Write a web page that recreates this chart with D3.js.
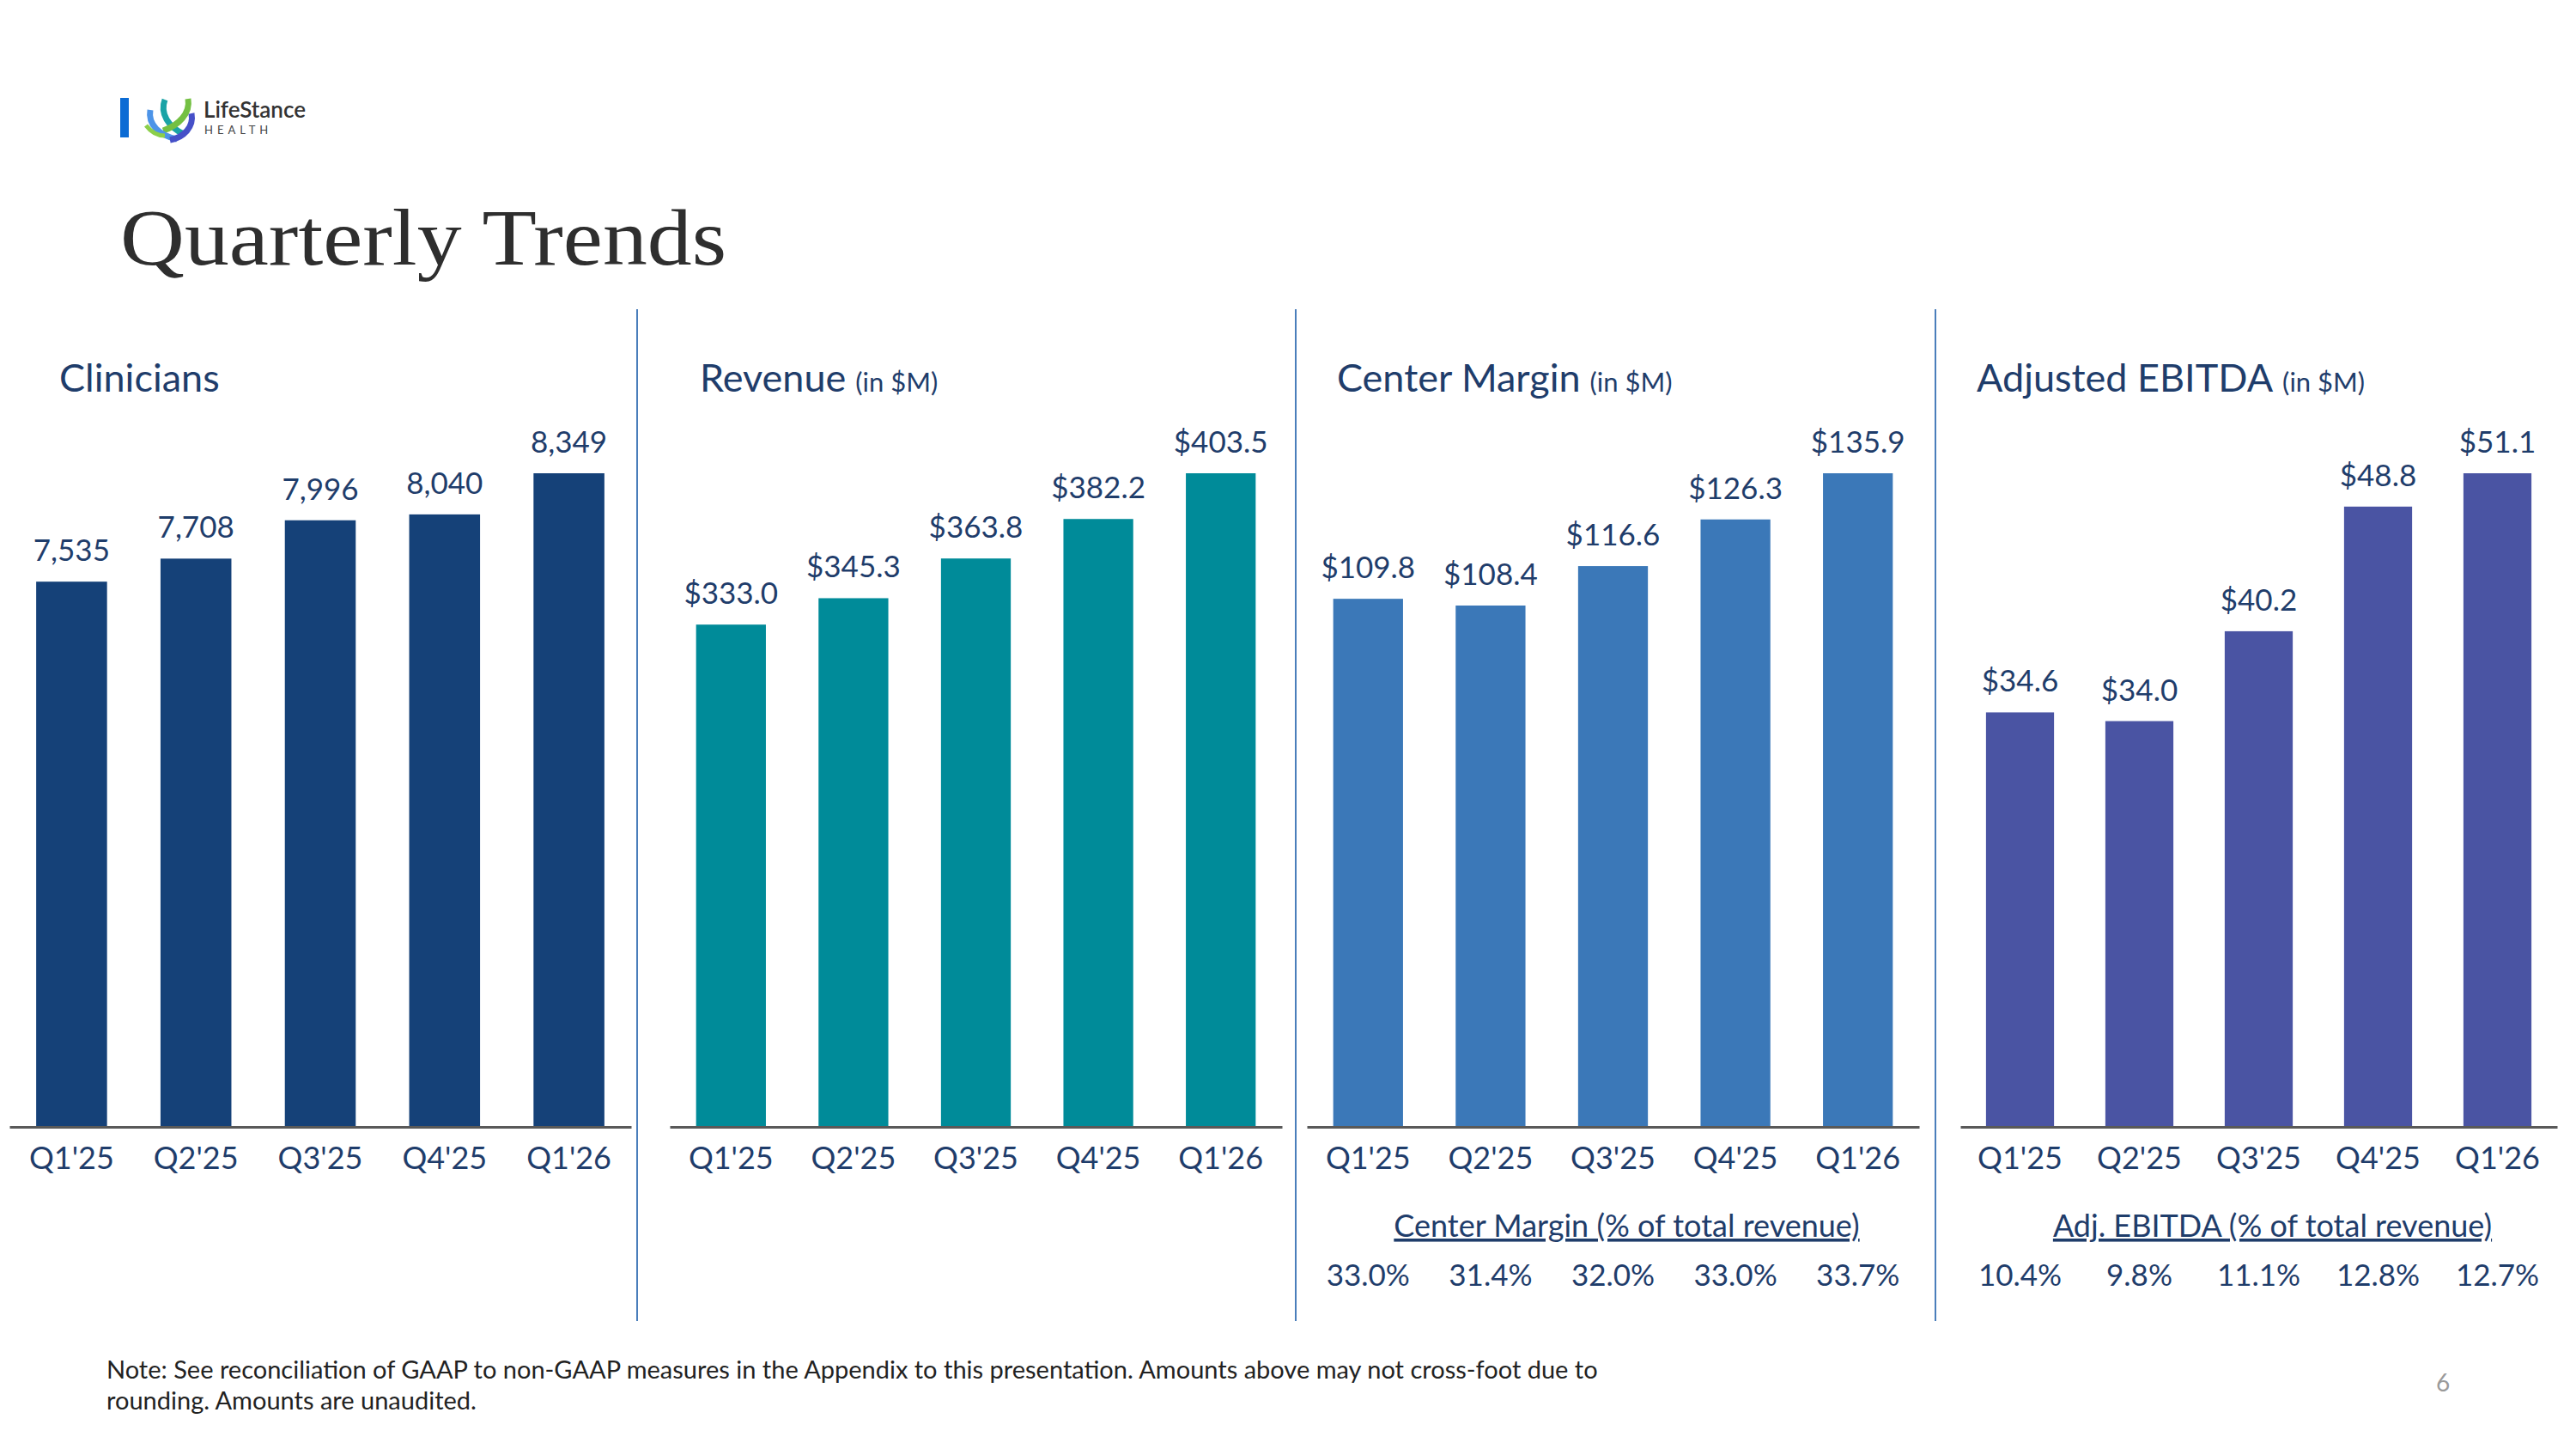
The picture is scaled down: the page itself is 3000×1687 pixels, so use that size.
<!DOCTYPE html>
<html>
<head>
<meta charset="utf-8">
<title>Quarterly Trends</title>
<style>
  body { margin: 0; background: #fff; }
  svg text { font-family: Lato, "Open Sans", sans-serif; }
</style>
</head>
<body>
<div id="chart"></div>
<script src="https://d3js.org/d3.v7.min.js"></script>
<script>
var quarters = ["Q1'25", "Q2'25", "Q3'25", "Q4'25", "Q1'26"];
var clinicians = [7535, 7708, 7996, 8040, 8349];
var revenue = [333.0, 345.3, 363.8, 382.2, 403.5];
var centerMargin = [109.8, 108.4, 116.6, 126.3, 135.9];
var adjEbitda = [34.6, 34.0, 40.2, 48.8, 51.1];
var centerMarginPct = [33.0, 31.4, 32.0, 33.0, 33.7];
var adjEbitdaPct = [10.4, 9.8, 11.1, 12.8, 12.7];
// value where each panel's bars start (axis is not zero based in the source)
var axisFloors = [3440, 99, 0, 6];

var width = 3000, height = 1687;
var textColor = "#1f3d6b";
var baseY = 1312, topY = 551;

var svg = d3.select("#chart").append("svg")
    .attr("width", width)
    .attr("height", height);

// logo
var logo = svg.append("g");
logo.append("rect").attr("x", 140).attr("y", 114).attr("width", 10).attr("height", 46).attr("fill", "#0b6bd4");
logo.append("path").attr("d", "M192,116 C186,132 196,148 214,156").attr("stroke", "#1aa3a6").attr("stroke-width", 7).attr("fill", "none");
logo.append("path").attr("d", "M219,115 C222,132 208,146 190,152").attr("stroke", "#74c043").attr("stroke-width", 7).attr("fill", "none");
logo.append("path").attr("d", "M175,128 C172,145 186,158 206,162").attr("stroke", "#4d94e8").attr("stroke-width", 7).attr("fill", "none");
logo.append("path").attr("d", "M223,132 C226,148 214,160 198,163").attr("stroke", "#4650c8").attr("stroke-width", 7).attr("fill", "none");
logo.append("path").attr("d", "M170,146 C176,154 184,158 192,158").attr("stroke", "#8ccf4a").attr("stroke-width", 5).attr("fill", "none");
logo.append("text").attr("x", 237).attr("y", 137).attr("font-size", 26).attr("font-weight", 600)
    .attr("fill", "#333").text("LifeStance");
logo.append("text").attr("x", 238).attr("y", 156).attr("font-size", 13).attr("letter-spacing", 5)
    .attr("fill", "#444").text("HEALTH");

// title
svg.append("text")
    .attr("x", 140).attr("y", 308)
    .attr("font-size", 94)
    .attr("fill", "#2e2e2e")
    .attr("textLength", 706)
    .attr("lengthAdjust", "spacingAndGlyphs")
    .style("font-family", "'Liberation Serif', 'DejaVu Serif', serif")
    .text("Quarterly Trends");

var panels = [
  { title: "Clinicians", unit: "", values: clinicians, color: "#154178", x0: 11, x1: 735, tx: 69,
    fmt: d3.format(",") },
  { title: "Revenue", unit: "(in $M)", values: revenue, color: "#008b99", x0: 780, x1: 1493, tx: 815,
    fmt: function(v) { return "$" + d3.format(".1f")(v); } },
  { title: "Center Margin", unit: "(in $M)", values: centerMargin, color: "#3b78b8", x0: 1522, x1: 2235, tx: 1557,
    fmt: function(v) { return "$" + d3.format(".1f")(v); },
    sub: "Center Margin (% of total revenue)", pct: centerMarginPct },
  { title: "Adjusted EBITDA", unit: "(in $M)", values: adjEbitda, color: "#4a54a3", x0: 2283, x1: 2978, tx: 2302,
    fmt: function(v) { return "$" + d3.format(".1f")(v); },
    sub: "Adj. EBITDA (% of total revenue)", pct: adjEbitdaPct }
];

// separators
[742, 1509, 2254].forEach(function(x) {
  svg.append("line").attr("x1", x).attr("x2", x).attr("y1", 360).attr("y2", 1538)
     .attr("stroke", "#4a7ebb").attr("stroke-width", 2);
});

panels.forEach(function(p, i) {
  var g = svg.append("g");

  var head = g.append("text").attr("x", p.tx).attr("y", 456)
      .attr("font-size", 45).attr("fill", textColor).text(p.title);
  if (p.unit) {
    head.append("tspan").attr("font-size", 31).attr("dx", 11).text(p.unit);
  }

  var x = d3.scaleBand().domain(quarters).range([p.x0, p.x1])
      .paddingInner(0.43).paddingOuter(0.215);
  var y = d3.scaleLinear().domain([axisFloors[i], d3.max(p.values)]).range([baseY, topY]);

  g.selectAll("rect.bar").data(p.values).enter().append("rect")
      .attr("class", "bar")
      .attr("x", function(d, j) { return x(quarters[j]); })
      .attr("y", function(d) { return y(d); })
      .attr("width", x.bandwidth())
      .attr("height", function(d) { return baseY - y(d); })
      .attr("fill", p.color);

  g.selectAll("text.val").data(p.values).enter().append("text")
      .attr("class", "val")
      .attr("x", function(d, j) { return x(quarters[j]) + x.bandwidth() / 2; })
      .attr("y", function(d) { return y(d) - 24; })
      .attr("text-anchor", "middle")
      .attr("font-size", 35)
      .attr("fill", textColor)
      .text(p.fmt);

  var axis = g.append("g").attr("transform", "translate(0," + baseY + ")")
      .call(d3.axisBottom(x).tickSize(0).tickSizeOuter(0).tickPadding(23));
  axis.select(".domain").attr("stroke", "#595959").attr("stroke-width", 3);
  axis.selectAll(".tick text")
      .attr("font-size", 36)
      .attr("fill", textColor)
      .style("font-family", "Lato, sans-serif");

  if (p.sub) {
    var cx = (p.x0 + p.x1) / 2 + 16;
    g.append("text").attr("x", cx).attr("y", 1440)
        .attr("text-anchor", "middle").attr("font-size", 36)
        .attr("fill", textColor)
        .attr("text-decoration", "underline")
        .text(p.sub);
    g.selectAll("text.pct").data(p.pct).enter().append("text")
        .attr("class", "pct")
        .attr("x", function(d, j) { return x(quarters[j]) + x.bandwidth() / 2; })
        .attr("y", 1497)
        .attr("text-anchor", "middle")
        .attr("font-size", 35)
        .attr("fill", textColor)
        .text(function(d) { return d3.format(".1f")(d) + "%"; });
  }
});

// footnote
var note = svg.append("text").attr("x", 124).attr("y", 1605).attr("font-size", 29).attr("fill", "#222");
note.append("tspan").attr("x", 124).text("Note:  See reconciliation of GAAP to non-GAAP measures in the Appendix to this presentation. Amounts above may not cross-foot due to");
note.append("tspan").attr("x", 124).attr("dy", 36).text("rounding. Amounts are unaudited.");

svg.append("text").attr("x", 2845).attr("y", 1620).attr("text-anchor", "middle")
    .attr("font-size", 28).attr("fill", "#9a9a9a").text("6");
</script>
</body>
</html>
